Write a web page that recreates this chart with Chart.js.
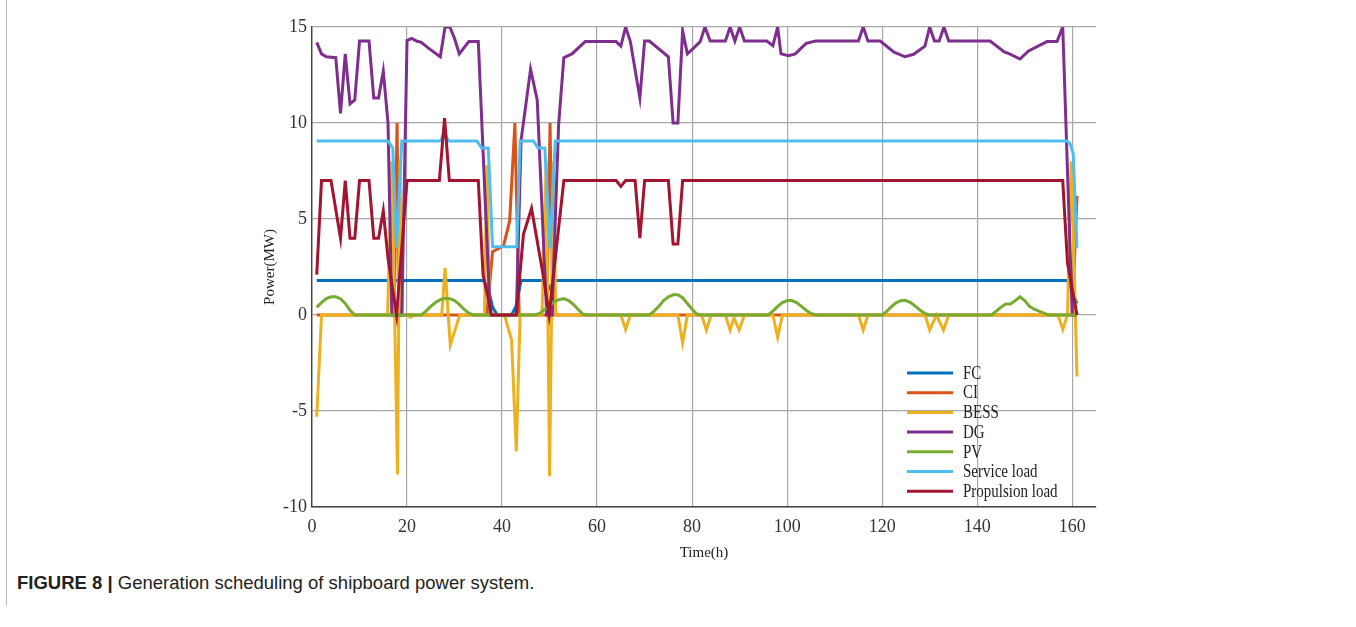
<!DOCTYPE html>
<html>
<head>
<meta charset="utf-8">
<script src="https://cdn.jsdelivr.net/npm/chart.js@4.4.0/dist/chart.umd.min.js"></script>
<style>
  body { margin: 0; background: #fff; }
  #wrap { position: relative; width: 1356px; height: 627px; overflow: hidden; }
  #chart { position: absolute; left: 0; top: 0; }
  #frame { position: absolute; left: 6px; top: 0; width: 1px; height: 606px; background: #bbb; }
  #caption { position: absolute; left: 17px; top: 572px; font-family: "Liberation Sans", Arial, sans-serif; font-size: 18.5px; color: #222; white-space: nowrap; }
  #caption b { font-weight: bold; }
</style>
</head>
<body>
<div id="wrap">
  <div id="frame"></div>
  <canvas id="chart" width="1356" height="570"></canvas>
  <div id="caption"><b>FIGURE 8 |</b> Generation scheduling of shipboard power system.</div>
</div>
<script>
// --- Data: [time (h), power (MW)] ---
const xTicks = [0, 20, 40, 60, 80, 100, 120, 140, 160];
const yTicks = [-10, -5, 0, 5, 10, 15];

const fcData = [[1,1.8],[36,1.8],[37,1.5],[38,0.4],[39,0],[42,0],[43,0.5],[44,1.8],[49,1.8],[50,1.4],[51,1.8],[159,1.8],[160,1.2],[161,0.6]];

const ciData = [[1,0],[17.3,0],[17.9,10],[18.4,0],[36.8,0],[38,3.3],[40.3,3.6],[41.6,4.9],[42.7,10],[43.6,0],[49.4,0],[50.1,10],[50.7,0],[160,0],[161,6.2]];

const bessData = [[1,-5.3],[2,0],[15.9,0],[16.8,8],[18,-8.3],[18.5,8],[19,0],[20.2,0],[20.7,-0.12],[21.5,0],
  [27.3,0],[28,2.45],[29.1,-1.56],[31.1,0],[36.3,0],[36.8,7.8],[37.4,0],[40.5,0],[42,-1.3],[43,-7.1],[43.8,0],
  [48.4,0],[49.3,8],[50,-8.4],[50.8,8],[51.3,0],[65,0],[66,-0.75],[67,0],[77,0],[78,-1.45],[79,0],
  [82,0],[83,-0.78],[84,0],[87,0],[88,-0.78],[88.8,-0.15],[89.9,-0.78],[91,0],[97,0],[98,-1.16],[99,0],
  [115,0],[116,-0.78],[117,0],[129,0],[130,-0.78],[131.4,0],[132.9,-0.78],[134,0],
  [157,0],[158,-0.75],[159,0],[159.8,8],[161,-3.2]];

const dgData = [[1,14.2],[2,13.6],[3,13.45],[5,13.4],[6,10.5],[7,13.6],[8,11.0],[9,11.2],[10,14.27],[12,14.27],
  [13,11.3],[14,11.3],[15,12.7],[16,10],[16.8,0],[18.9,0],[20,14.3],[21,14.4],[22,14.27],[23,14.2],[24.5,13.9],
  [27,13.45],[28,15],[29,15],[30,14.4],[31,13.6],[33,14.24],[35,14.24],[37.5,0],[43,0],[44,9.1],[46,12.8],
  [47.4,11.2],[49.4,0],[50.5,0],[51.9,9.9],[53,13.4],[54.7,13.6],[57.5,14.24],[64,14.24],[65,14.0],[66,15],
  [67,14.24],[69,11.3],[70,14.27],[71,14.27],[75,13.45],[76,10],[77,10],[78,14.8],[79,13.6],[80.3,13.9],
  [81.7,14.24],[82.7,15],[83.8,14.27],[87,14.27],[88,15],[89,14.27],[90,15],[91,14.27],[95.7,14.27],[97,14.03],
  [98,15],[98.7,13.6],[100.3,13.5],[101.7,13.6],[104,14.15],[106,14.27],[115,14.27],[116,15],[117,14.27],
  [119.6,14.27],[122.4,13.7],[124.8,13.45],[126.6,13.58],[129,14],[130,15],[131,14.27],[132,14.27],[133,15],
  [134,14.27],[142.7,14.27],[145.7,13.7],[146.8,13.6],[149,13.33],[150.8,13.75],[154.7,14.24],[156.8,14.24],
  [158,15],[160,0],[161,0]];

const pvData = [[1,0.4],[2,0.65],[3,0.85],[4,0.95],[5,0.95],[6,0.85],[7,0.6],[8,0.25],[9,0],
  [23,0],[24,0.2],[25,0.45],[26,0.65],[27,0.8],[28,0.87],[29,0.85],[30,0.75],[31,0.55],[32,0.3],[33,0.1],[34,0],
  [47,0],[48,0.1],[49,0.3],[50,0.5],[51,0.7],[52,0.8],[53,0.85],[54,0.75],[55,0.55],[56,0.3],[57,0.05],[58,0],
  [71,0],[72,0.2],[73,0.45],[74,0.75],[75,0.95],[76,1.05],[77,1.05],[78,0.9],[79,0.6],[80,0.3],[81,0.05],[82,0],
  [96,0],[97,0.2],[98,0.45],[99,0.65],[100,0.75],[101,0.75],[102,0.65],[103,0.45],[104,0.25],[105,0.08],[106,0],
  [120,0],[121,0.2],[122,0.45],[123,0.65],[124,0.75],[125,0.75],[126,0.65],[127,0.45],[128,0.25],[129,0.08],[130,0],
  [143,0],[144,0.2],[145,0.4],[146,0.57],[147,0.57],[148,0.75],[149,0.95],[150,0.75],[151,0.45],[152,0.3],
  [153,0.2],[154,0.1],[155,0],[161,0]];

const serviceData = [[1,9.06],[16,9.06],[17,8.7],[17.8,3.5],[18.9,9.06],[27,9.06],[27.9,9.5],[28.7,9.06],
  [34.7,9.06],[35.7,8.7],[37.1,8.7],[38,3.55],[43.1,3.55],[43.8,9.06],[46.6,9.06],[47.6,8.7],[49,8.7],
  [50.1,3.47],[51.2,9.06],[158.9,9.06],[159.6,8.9],[160.2,8.4],[161,3.5]];

const propulsionData = [[1,2.1],[2,7],[4,7],[6,4],[7,7],[8,4],[9,4],[10,7],[12,7],[13,4],[14,4],[15,5.43],
  [16,2.95],[17.8,0],[20,7],[26.8,7],[27.9,10.25],[28.9,7],[35,7],[36,2.1],[37.8,0],[43,0],[44.5,4.2],
  [46.2,5.55],[48.7,2],[49.9,0],[53,7],[64,7],[65,6.7],[66,7],[68,7],[69,4],[70,7],[75,7],[76,3.7],[77,3.7],
  [78,7],[158,7],[159,2.7],[161,0]];

const seriesNames = ['FC', 'CI', 'BESS', 'DG', 'PV', 'Service load', 'Propulsion load'];
const seriesData = [fcData, ciData, bessData, dgData, pvData, serviceData, propulsionData];
const seriesColors = ['#0072BD', '#D95319', '#EDB120', '#7E2F8E', '#77AC30', '#4DBEEE', '#A2142F'];

const serif = '"Liberation Serif", "Times New Roman", serif';

// legend drawn inside the plot, like the MATLAB one
const insideLegend = {
  id: 'insideLegend',
  afterDraw(chart) {
    const { ctx, chartArea } = chart;
    const x0 = chartArea.right - 189;
    const y0 = chartArea.bottom - 134;
    ctx.save();
    ctx.font = '15px ' + serif;
    ctx.textBaseline = 'middle';
    ctx.fillStyle = '#222';
    seriesNames.forEach((name, i) => {
      const y = y0 + i * 19.7;
      ctx.strokeStyle = seriesColors[i];
      ctx.lineWidth = 3;
      ctx.beginPath();
      ctx.moveTo(x0, y);
      ctx.lineTo(x0 + 46, y);
      ctx.stroke();
      // the figure's text is a little taller than wide
      ctx.save();
      ctx.translate(x0 + 56, y + 1);
      ctx.scale(1, 1.2);
      ctx.fillText(name, 0, 0);
      ctx.restore();
    });
    ctx.restore();
  }
};

new Chart(document.getElementById('chart'), {
  type: 'line',
  data: {
    datasets: seriesNames.map((name, i) => ({
      label: name,
      data: seriesData[i].map(p => ({ x: p[0], y: p[1] })),
      borderColor: seriesColors[i],
      backgroundColor: seriesColors[i],
      borderWidth: 3,
      pointRadius: 0,
      tension: 0,
      fill: false,
      order: seriesNames.length - i
    }))
  },
  options: {
    responsive: false,
    animation: false,
    layout: { padding: { left: 250, right: 260, top: 27, bottom: 0 } },
    plugins: { legend: { display: false }, tooltip: { enabled: false } },
    scales: {
      x: {
        type: 'linear',
        min: 0,
        max: 165,
        afterFit: s => { s.height = 63; },
        afterBuildTicks: s => { s.ticks = xTicks.map(v => ({ value: v })); },
        ticks: { padding: 9, color: '#333', font: { family: serif, size: 18 } },
        grid: { color: '#a8a8a8', lineWidth: 1.2, drawTicks: false },
        border: { color: '#444', width: 1.4 },
        title: { display: true, text: 'Time(h)', color: '#222', font: { family: serif, size: 15 }, padding: { top: 0, bottom: 8 } }
      },
      y: {
        min: -10,
        max: 15,
        afterFit: s => { s.width = 62; },
        afterBuildTicks: s => { s.ticks = yTicks.map(v => ({ value: v })); },
        ticks: { padding: 5, color: '#333', font: { family: serif, size: 18 } },
        grid: { color: '#a8a8a8', lineWidth: 1.2, drawTicks: false },
        border: { color: '#444', width: 1.4 },
        title: { display: true, text: 'Power(MW)', color: '#222', font: { family: serif, size: 15 }, padding: { top: 11, bottom: 0 } }
      }
    }
  },
  plugins: [insideLegend]
});
</script>
</body>
</html>
